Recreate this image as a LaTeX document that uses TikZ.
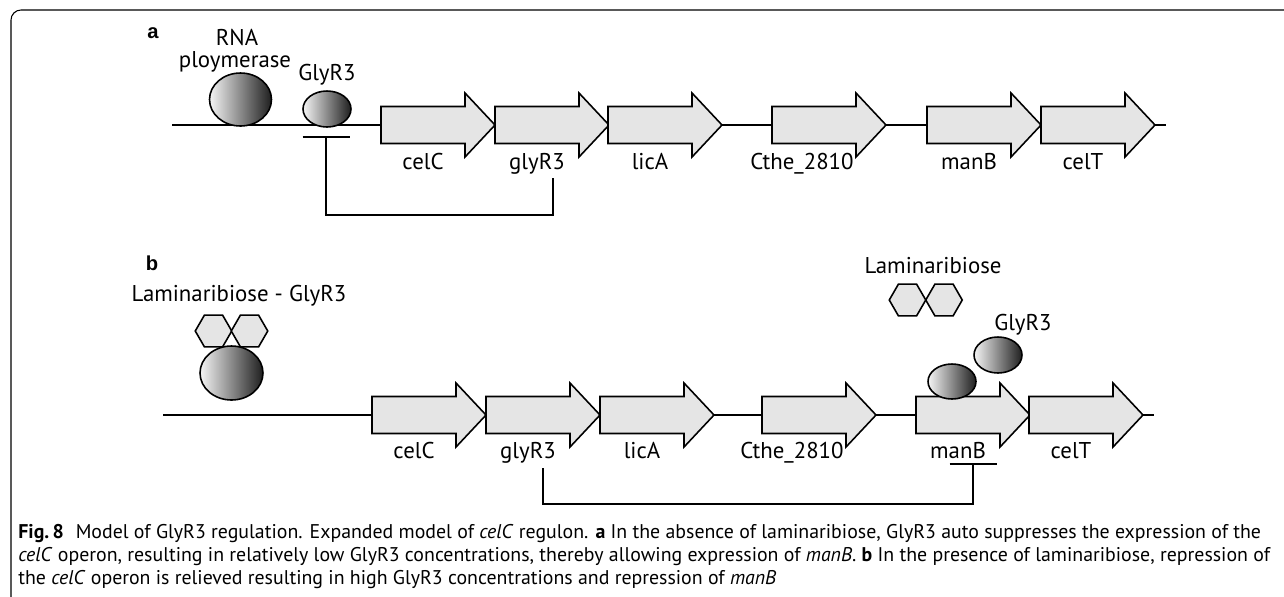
\documentclass[tikz,border=0pt]{standalone}
\usepackage{fontspec}
\setmainfont{PT Sans}
\newfontfamily\panelfont{Liberation Sans}
\usetikzlibrary{shapes.geometric,arrows.meta}
\begin{document}
\begin{tikzpicture}
[x=0.02cm,y=-0.02cm,
  genedecorate/.style={draw,line width=0.9pt,fill=black!10,line join=miter},
  dnadecorate/.style={-,line width=0.9pt},
  proteindecorate/.style={shape=ellipse,draw,line width=0.9pt,inner sep=0pt,
    left color=black!4,right color=black!88},
  sugardecorate/.style={shape=regular polygon,regular polygon sides=6,draw,
    line width=0.9pt,fill=black!10,inner sep=0pt,minimum size=0.73cm},
  repressdecorate/.style={line width=0.9pt,-{Bar[width=0.94cm]}},
  genelabel/.style={anchor=base,inner sep=0pt,font=\fontsize{13}{15}\selectfont},
  paneltag/.style={anchor=base,inner sep=0pt,font=\panelfont\bfseries\fontsize{11.5}{13}\selectfont},
  captext/.style={anchor=base west,inner sep=0pt,font=\fontsize{11.3}{13}\selectfont}]
\useasboundingbox (0,0) rectangle (1284,596);
%% frame
\draw[line width=0.6pt,rounded corners=0.2cm] (11,600) -- (11,10) -- (1290,10);
%% panel a
\node[paneltag] (taga) at (153,38) {a};
\coordinate (dnaa-start) at (172,125);
\coordinate (dnaa-end) at (1166,125);
\draw[dnadecorate] (dnaa-start) -- (dnaa-end);
\foreach \gname/\gx/\glab/\loff in {
  celC/381/celC/0, glyR3/495/glyR3/0, licA/608/licA/0,
  cthe/772/Cthe\_2810/-12, manB/927/manB/0, celT/1041/celT/0}
{
  \draw[genedecorate] (\gx,106.5) -- ++(84,0) -- ++(0,-13.5) -- ++(30,32)
    -- ++(-30,32) -- ++(0,-13.5) -- ++(-84,0) -- cycle;
  \node[genelabel] (a-\gname) at (\gx+42+\loff,169) {\glab};
}
\node (rnap) at (240.5,99.5) [proteindecorate,minimum width=1.24cm,minimum height=1.06cm] {};
\node[genelabel] (rnap-label1) at (237,45) {RNA};
\node[genelabel] (rnap-label2) at (235,67) {ploymerase};
\node (glyra) at (327,109) [proteindecorate,minimum width=0.96cm,minimum height=0.72cm] {};
\node[genelabel] (glyra-label) at (327,80) {GlyR3};
%% auto repression loop
\coordinate (fba-start) at (553,178);
\coordinate (fba-turn) at (553,215);
\coordinate (bara) at (326,136);
\draw[repressdecorate] (fba-start) -- (fba-turn) -| (bara);
%% panel b
\node[paneltag] (tagb) at (152,270) {b};
\coordinate (dnab-start) at (163,415);
\coordinate (dnab-end) at (1154,415);
\draw[dnadecorate] (dnab-start) -- (dnab-end);
\foreach \gname/\gx/\glab/\loff in {
  celC/372/celC/0, glyR3/486/glyR3/0, licA/600/licA/0,
  cthe/762/Cthe\_2810/-12, manB/916/manB/0, celT/1029/celT/0}
{
  \draw[genedecorate] (\gx,396.5) -- ++(84,0) -- ++(0,-13.5) -- ++(30,32)
    -- ++(-30,32) -- ++(0,-13.5) -- ++(-84,0) -- cycle;
  \node[genelabel] (b-\gname) at (\gx+42+\loff,458) {\glab};
}
\node[genelabel] (complex-label) at (239,301) {Laminaribiose - GlyR3};
\node (sugar1) at (213.5,331) [sugardecorate] {};
\node (sugar2) at (249.5,331) [sugardecorate] {};
\node (complex) at (231.5,373) [proteindecorate,minimum width=1.26cm,minimum height=1.08cm] {};
\node[genelabel] (lam-label) at (933,273) {Laminaribiose};
\node (sugar3) at (907.5,300) [sugardecorate] {};
\node (sugar4) at (944,300) [sugardecorate] {};
\node[genelabel] (glyrb-label) at (1023,330) {GlyR3};
\node (glyrfree) at (998,355) [proteindecorate,minimum width=0.96cm,minimum height=0.72cm] {};
\node (glyrbound) at (952,381.5) [proteindecorate,minimum width=0.96cm,minimum height=0.70cm] {};
%% manB repression loop
\coordinate (fbb-start) at (543,468);
\coordinate (fbb-turn) at (543,504);
\coordinate (barb) at (973,463);
\draw[repressdecorate] (fbb-start) -- (fbb-turn) -| (barb);
%% caption
\node[captext] (cap1) at (18,538) {\textbf{Fig.\,8}\hspace{0.6em}Model of GlyR3 regulation. Expanded model of \textit{celC} regulon. \textbf{a} In the absence of laminaribiose, GlyR3 auto suppresses the expression of the};
\node[captext] (cap2) at (18,561) {\textit{celC} operon, resulting in relatively low GlyR3 concentrations, thereby allowing expression of \textit{manB}. \textbf{b} In the presence of laminaribiose, repression of};
\node[captext] (cap3) at (18,584) {the \textit{celC} operon is relieved resulting in high GlyR3 concentrations and repression of \textit{manB}};
\end{tikzpicture}
\end{document}
